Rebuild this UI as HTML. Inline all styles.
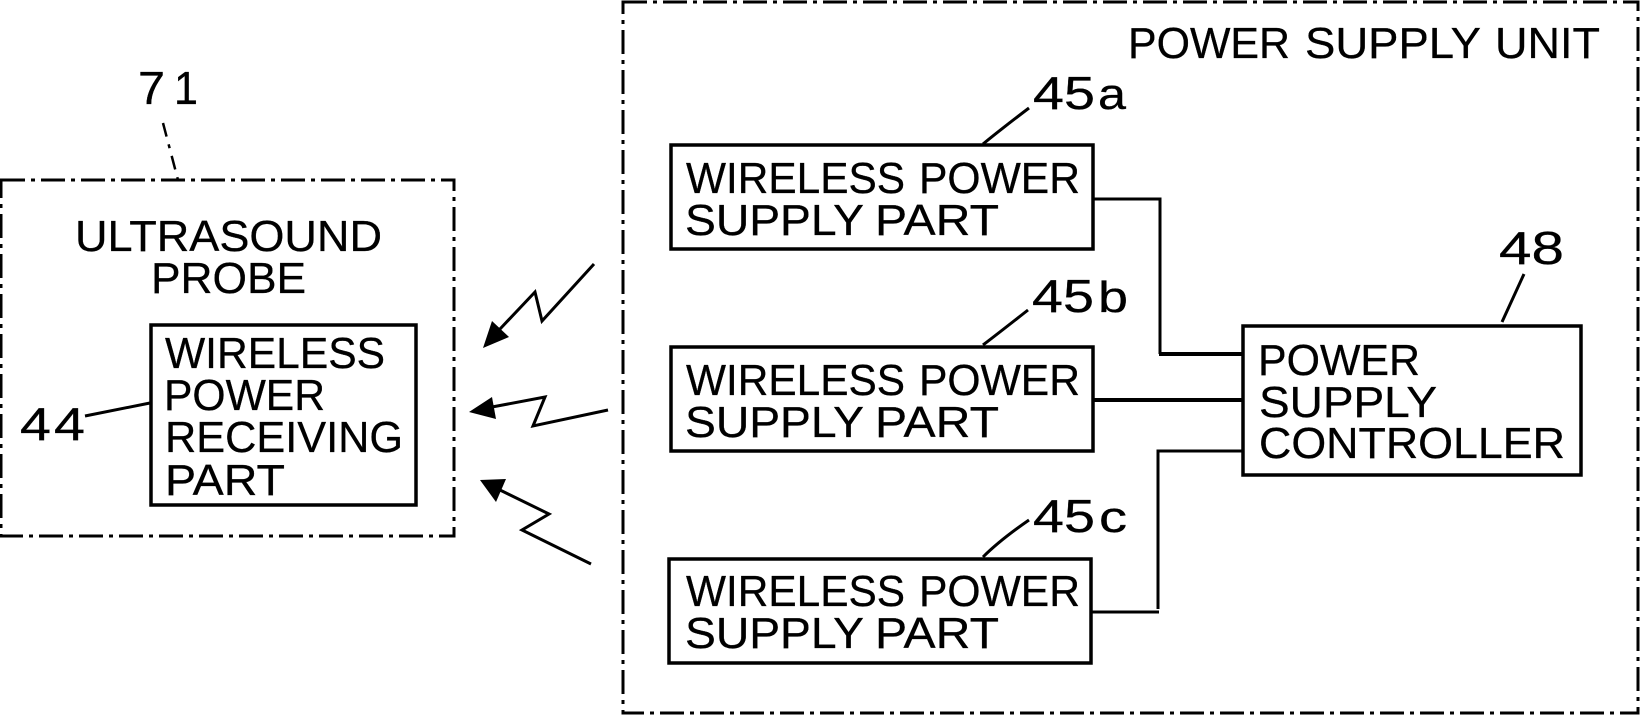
<!DOCTYPE html>
<html><head><meta charset="utf-8"><style>
html,body{margin:0;padding:0;background:#fff;width:1641px;height:715px;overflow:hidden}
svg{display:block}
text{font-family:"Liberation Sans",sans-serif;fill:#000;font-size:44px;stroke:#000;stroke-width:.3px}
text.n{font-size:46px}
.b{fill:#fff;stroke:#000;stroke-width:3.5}
.l{fill:none;stroke:#000;stroke-width:3}
.d{fill:none;stroke:#000;stroke-width:3;stroke-dasharray:24 6 4 6}
</style></head><body>
<svg width="1641" height="715" viewBox="0 0 1641 715" xmlns="http://www.w3.org/2000/svg">
<rect class="d" x="623" y="2" width="1015" height="711"/>
<rect class="d" x="1" y="180" width="453" height="356"/>
<path d="M163 123L178 180" fill="none" stroke="#000" stroke-width="2.5" stroke-dasharray="14 8 4 8"/>
<rect class="b" x="151" y="325" width="265" height="180" stroke-width="3.5"/>
<rect class="b" x="671" y="145" width="422" height="104"/>
<rect class="b" x="671" y="347" width="422" height="104"/>
<rect class="b" x="669" y="559" width="422" height="104"/>
<rect class="b" x="1243" y="326" width="338" height="149"/>

<path class="l" d="M1093 199H1160V354"/>
<path d="M1159 354H1243" stroke="#000" stroke-width="4" fill="none"/>
<path d="M1093 400H1243" stroke="#000" stroke-width="4" fill="none"/>
<path class="l" d="M1243 451H1158V609"/>
<path class="l" d="M1091 612H1159"/>

<path class="l" d="M85 416L150 403"/>
<path class="l" d="M1029 108Q1000 130 983 144"/>
<path class="l" d="M1028 310Q1000 332 983 345"/>
<path class="l" d="M1029 520Q1000 540 983 557"/>
<path class="l" d="M1524 274L1502 322"/>

<path class="l" d="M500 329L535 292L542 321L594 264"/>
<path d="M483 348L492 321L509 337Z"/>
<path class="l" d="M492 407L545 397L533 426L608 410"/>
<path d="M469 412L492 397L496 419Z"/>
<path class="l" d="M500 490L549 514L522 530L591 564"/>
<path d="M480 480L506 479L496 502Z"/>

<text class="n" x="138" y="104" textLength="27" lengthAdjust="spacingAndGlyphs">7</text>
<text class="n" x="174" y="104" textLength="24" lengthAdjust="spacingAndGlyphs">1</text>
<text class="n" x="20" y="440" textLength="31" lengthAdjust="spacingAndGlyphs">4</text>
<text class="n" x="54" y="440" textLength="31" lengthAdjust="spacingAndGlyphs">4</text>
<text x="75" y="251" textLength="307" lengthAdjust="spacingAndGlyphs">ULTRASOUND</text>
<text x="151" y="293" textLength="155" lengthAdjust="spacingAndGlyphs">PROBE</text>
<text x="165" y="368" textLength="220" lengthAdjust="spacingAndGlyphs">WIRELESS</text>
<text x="164" y="410" textLength="161" lengthAdjust="spacingAndGlyphs">POWER</text>
<text x="165" y="452" textLength="238" lengthAdjust="spacingAndGlyphs">RECEIVING</text>
<text x="165" y="495" textLength="120" lengthAdjust="spacingAndGlyphs">PART</text>

<text x="1128" y="58" textLength="162" lengthAdjust="spacingAndGlyphs">POWER</text>
<text x="1305" y="58" textLength="176" lengthAdjust="spacingAndGlyphs">SUPPLY</text>
<text x="1495" y="58" textLength="105" lengthAdjust="spacingAndGlyphs">UNIT</text>

<text class="n" x="1033" y="109" textLength="62" lengthAdjust="spacingAndGlyphs">45</text>
<text x="1098" y="109" textLength="28" lengthAdjust="spacingAndGlyphs">a</text>
<text class="n" x="1032" y="312" textLength="62" lengthAdjust="spacingAndGlyphs">45</text>
<text x="1098" y="312" textLength="30" lengthAdjust="spacingAndGlyphs">b</text>
<text class="n" x="1033" y="532" textLength="62" lengthAdjust="spacingAndGlyphs">45</text>
<text x="1099" y="532" textLength="28" lengthAdjust="spacingAndGlyphs">c</text>
<text class="n" x="1499" y="264" textLength="65" lengthAdjust="spacingAndGlyphs">48</text>

<text x="686" y="193" textLength="219" lengthAdjust="spacingAndGlyphs">WIRELESS</text>
<text x="919" y="193" textLength="161" lengthAdjust="spacingAndGlyphs">POWER</text>
<text x="685" y="235" textLength="179" lengthAdjust="spacingAndGlyphs">SUPPLY</text>
<text x="875" y="235" textLength="124" lengthAdjust="spacingAndGlyphs">PART</text>

<text x="686" y="395" textLength="219" lengthAdjust="spacingAndGlyphs">WIRELESS</text>
<text x="919" y="395" textLength="161" lengthAdjust="spacingAndGlyphs">POWER</text>
<text x="685" y="437" textLength="179" lengthAdjust="spacingAndGlyphs">SUPPLY</text>
<text x="875" y="437" textLength="124" lengthAdjust="spacingAndGlyphs">PART</text>

<text x="686" y="606" textLength="219" lengthAdjust="spacingAndGlyphs">WIRELESS</text>
<text x="919" y="606" textLength="161" lengthAdjust="spacingAndGlyphs">POWER</text>
<text x="685" y="648" textLength="179" lengthAdjust="spacingAndGlyphs">SUPPLY</text>
<text x="875" y="648" textLength="124" lengthAdjust="spacingAndGlyphs">PART</text>

<text x="1258" y="375" textLength="162" lengthAdjust="spacingAndGlyphs">POWER</text>
<text x="1259" y="417" textLength="178" lengthAdjust="spacingAndGlyphs">SUPPLY</text>
<text x="1259" y="458" textLength="306" lengthAdjust="spacingAndGlyphs">CONTROLLER</text>
</svg>
</body></html>
